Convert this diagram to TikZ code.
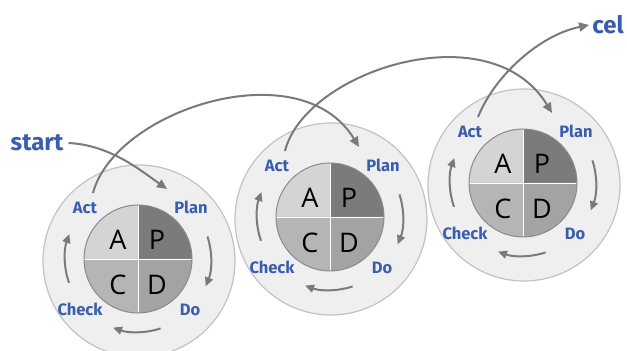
\documentclass[tikz,border=0pt]{standalone}
\usepackage{fontspec}
\setmainfont{Open Sans}
\newfontfamily\labfont{Fira Sans}
\usetikzlibrary{arrows.meta}
\definecolor{lblue}{HTML}{3A5DAE}
\definecolor{agray}{HTML}{7A7A7A}
\definecolor{outerfill}{HTML}{EFEFEF}
\definecolor{outerline}{HTML}{C2C2C2}
\definecolor{innerline}{HTML}{8A8A8A}
\definecolor{qa}{HTML}{D4D4D4}
\definecolor{qp}{HTML}{7B7B7B}
\definecolor{qc}{HTML}{B5B5B5}
\definecolor{qd}{HTML}{A3A3A3}
\tikzset{
  lab/.style={font=\labfont\bfseries\fontsize{16.5}{16.5}\selectfont, text=lblue, inner sep=0pt},
  big/.style={font=\labfont\bfseries\fontsize{24}{24}\selectfont, text=lblue, inner sep=0pt},
  letter/.style={font=\fontsize{27}{27}\selectfont, inner sep=0pt},
  flow/.style={draw=agray, line width=2pt, -{Triangle[length=10pt,width=9pt]}},
  cyc/.style={draw=agray, line width=2pt, -{Triangle[length=9pt,width=8pt]}},
  pdca/.pic={
    \fill[outerfill, draw=outerline, line width=1.2pt] (1,-2) circle[radius=96pt];
    \fill[qp] (0,0) -- (0,54pt) arc[start angle=90,end angle=0,radius=54pt] -- cycle;
    \fill[qa] (0,0) -- (0,54pt) arc[start angle=90,end angle=180,radius=54pt] -- cycle;
    \fill[qc] (0,0) -- (-54pt,0) arc[start angle=180,end angle=270,radius=54pt] -- cycle;
    \fill[qd] (0,0) -- (0,-54pt) arc[start angle=270,end angle=360,radius=54pt] -- cycle;
    \draw[white, line width=0.8pt] (-54pt,0) -- (54pt,0) (0,-54pt) -- (0,54pt);
    \draw[innerline, line width=1pt] (0,0) circle[radius=54pt];
    \node[letter] (-a) at (-20,19) {A};
    \node[letter] (-p) at (19,19) {P};
    \node[letter] (-c) at (-20,-26) {C};
    \node[letter] (-d) at (19,-26) {D};
    \node[lab] (-act) at (-53,51) {Act};
    \node[lab] (-plan) at (53,52) {Plan};
    \node[lab] (-check) at (-58,-50) {Check};
    \node[lab] (-do) at (52,-51) {Do};
    \coordinate (-actout) at (-45,66);
    \coordinate (-planin) at (29,70);
    \draw[cyc] (18:73pt) arc[start angle=18,end angle=-22,radius=73pt];
    \draw[cyc] (-72:73pt) arc[start angle=-72,end angle=-110,radius=73pt];
    \draw[cyc] (199:73pt) arc[start angle=199,end angle=160,radius=73pt];
  }
}
\begin{document}
\begin{tikzpicture}[x=1pt,y=1pt]
\useasboundingbox (0,0) rectangle (627,351);
\fill[white] (0,0) rectangle (627,351);
\pic (c1) at (138,92) {pdca};
\pic (c2) at (330,134) {pdca};
\pic (c3) at (523,168) {pdca};
\node[big] (start) at (37,208) {start};
\node[big] (cel) at (608,326) {cel};
\draw[flow] ([xshift=5pt]start.east) .. controls (110,206) and (140,181) .. (c1-planin);
\draw[flow] (c1-actout) .. controls (115,241) and (300,301) .. (c2-planin);
\draw[flow] (c2-actout) .. controls (305,280) and (490,340) .. (c3-planin);
\draw[flow] (c3-actout) .. controls (495,276) and (540,316) .. ([xshift=-3pt]cel.west);
\end{tikzpicture}
\end{document}
